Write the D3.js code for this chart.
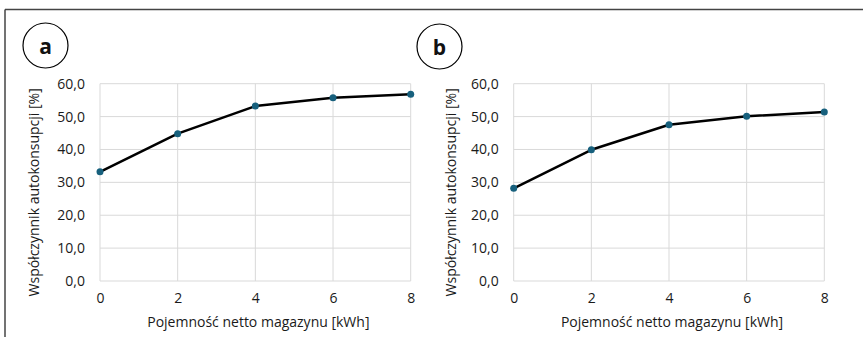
<!DOCTYPE html>
<html>
<head>
<meta charset="utf-8">
<script src="https://cdn.jsdelivr.net/npm/d3@7"></script>
<style>
  html, body { margin: 0; padding: 0; background: #fff; }
  svg { display: block; font-family: "Open Sans", "Noto Sans", sans-serif; }
</style>
</head>
<body>
<svg id="chart" width="863" height="337"></svg>
<script>
// Storage capacity (kWh) on the x axis
const capacities = [0, 2, 4, 6, 8];
// Self-consumption ratio (%) for the two scenarios
const seriesA = [33.2, 44.8, 53.2, 55.7, 56.8];
const seriesB = [28.2, 39.9, 47.5, 50.1, 51.4];
const panelLabels = ["a", "b"];
const yTicks = [0, 10, 20, 30, 40, 50, 60];
const xTicks = [0, 2, 4, 6, 8];
const xTitle = "Pojemność netto magazynu [kWh]";
const yTitle = "Współczynnik autokonsupcji [%]";

const svg = d3.select("#chart");
const fmt = v => d3.format(".1f")(v).replace(".", ",");

// outer frame (top and left edges visible)
svg.append("line").attr("x1", 5).attr("x2", 863).attr("y1", 9.5).attr("y2", 9.5)
  .attr("stroke", "#444").attr("stroke-width", 1.5);
svg.append("line").attr("x1", 5).attr("x2", 5).attr("y1", 9.5).attr("y2", 337)
  .attr("stroke", "#444").attr("stroke-width", 1.5);

const panels = [
  { values: seriesA, label: panelLabels[0], x0: 100, x1: 410.7, circle: [45.5, 45.5], yTitleX: 33 },
  { values: seriesB, label: panelLabels[1], x0: 513.7, x1: 824.3, circle: [439.5, 46.5], yTitleX: 450 }
];

const yTop = 83.7, yBot = 281;

panels.forEach(p => {
  const x = d3.scaleLinear().domain([0, 8]).range([p.x0, p.x1]);
  const y = d3.scaleLinear().domain([0, 60]).range([yBot, yTop]);
  const g = svg.append("g");

  // gridlines
  g.append("g").selectAll("line").data(yTicks).join("line")
    .attr("x1", p.x0).attr("x2", p.x1)
    .attr("y1", d => y(d)).attr("y2", d => y(d))
    .attr("stroke", "#d9d9d9").attr("stroke-width", 1);
  g.append("g").selectAll("line").data(xTicks).join("line")
    .attr("x1", d => x(d)).attr("x2", d => x(d))
    .attr("y1", yTop).attr("y2", yBot)
    .attr("stroke", "#d9d9d9").attr("stroke-width", 1);

  // y axis labels
  const ya = g.append("g").attr("transform", `translate(${p.x0},0)`)
    .call(d3.axisLeft(y).tickValues(yTicks).tickFormat(fmt).tickSize(0).tickPadding(15));
  ya.select(".domain").remove();
  ya.selectAll("text").attr("font-size", 14).attr("fill", "#1a1a1a").attr("font-family", "Open Sans");

  // x axis labels
  const xa = g.append("g").attr("transform", `translate(0,${yBot})`)
    .call(d3.axisBottom(x).tickValues(xTicks).tickFormat(d3.format("d")).tickSize(0).tickPadding(12));
  xa.select(".domain").remove();
  xa.selectAll("text").attr("font-size", 14).attr("fill", "#1a1a1a").attr("font-family", "Open Sans");

  // axis titles
  g.append("text").attr("x", (p.x0 + p.x1) / 2 + 3).attr("y", 327)
    .attr("text-anchor", "middle").attr("font-size", 14).attr("fill", "#1a1a1a")
    .text(xTitle);
  g.append("text")
    .attr("transform", `translate(${p.yTitleX},${(yTop + yBot) / 2 + 10}) rotate(-90)`)
    .attr("text-anchor", "middle").attr("dominant-baseline", "central")
    .attr("font-size", 14).attr("fill", "#1a1a1a")
    .text(yTitle);

  // line and markers
  const pts = capacities.map((c, i) => [c, p.values[i]]);
  g.append("path").datum(pts)
    .attr("d", d3.line().x(d => x(d[0])).y(d => y(d[1])))
    .attr("fill", "none").attr("stroke", "#000").attr("stroke-width", 2.5)
    .attr("stroke-linejoin", "round");
  g.append("g").selectAll("circle").data(pts).join("circle")
    .attr("cx", d => x(d[0])).attr("cy", d => y(d[1])).attr("r", 3.5)
    .attr("fill", "#17607d");

  // panel label
  g.append("circle").attr("cx", p.circle[0]).attr("cy", p.circle[1]).attr("r", 22.5)
    .attr("fill", "#fff").attr("stroke", "#000").attr("stroke-width", 1.2);
  g.append("text").attr("x", p.circle[0]).attr("y", p.circle[1])
    .attr("text-anchor", "middle").attr("dominant-baseline", "central")
    .attr("font-size", 21).attr("font-weight", "bold").attr("fill", "#111")
    .text(p.label);
});
</script>
</body>
</html>
